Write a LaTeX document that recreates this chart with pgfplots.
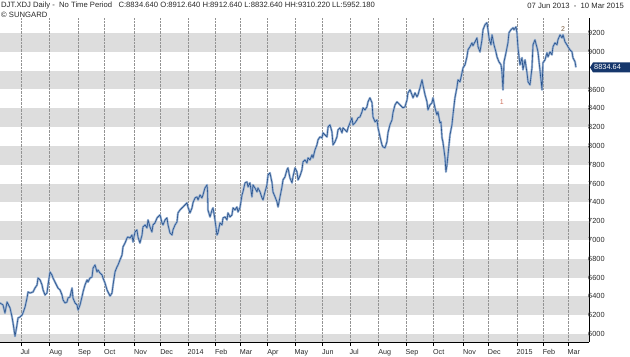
\documentclass[border=0pt]{standalone}
\usepackage{fontspec}
\setmainfont{Liberation Sans}
\usepackage{pgfplots}
\usepackage{pgfplotstable}
\pgfplotsset{compat=1.18}
\definecolor{band}{RGB}{221,221,221}
\definecolor{halo}{RGB}{150,176,210}
\definecolor{lineblue}{RGB}{40,82,140}
\definecolor{tag}{RGB}{22,55,108}
\definecolor{txt}{RGB}{40,40,40}
\definecolor{one}{RGB}{205,110,90}
\definecolor{two}{RGB}{120,90,60}

\pgfplotstableread{
x y
0 6330
2.3 6309
3.8 6223
5.4 6340
7.7 6277
9.2 6181
10.0 6117
11.5 5975
13.0 6096
13.8 6170
15.3 6181
16.9 6202
17.6 6223
19.2 6287
20.7 6383
21.5 6447
23.0 6436
25.3 6447
26.8 6489
28.4 6521
29.1 6596
30.7 6575
32.2 6521
33.0 6468
34.5 6415
36.0 6436
36.8 6521
38.3 6660
39.8 6628
40.6 6596
42.1 6553
44.4 6489
46.0 6468
47.5 6415
48.3 6362
49.8 6330
51.3 6340
52.1 6383
53.6 6394
55.2 6489
55.9 6383
57.5 6330
59.0 6309
59.8 6255
61.3 6309
62.8 6394
63.6 6447
65.1 6521
66.7 6575
67.4 6553
69.0 6596
70.5 6606
71.3 6702
72.8 6734
74.3 6660
75.1 6681
76.6 6649
78.2 6628
78.9 6596
80.4 6543
82.0 6468
84.3 6404
85.8 6436
86.6 6521
88.1 6660
89.6 6713
90.4 6734
91.9 6787
93.5 6841
94.2 6926
95.8 6968
97.3 7021
98.0 7032
99.6 7021
101.1 7053
101.9 6979
103.4 7085
104.9 7107
105.7 7032
107.2 6968
108.8 7053
109.5 7138
111.1 7160
112.6 7128
113.4 7213
114.9 7138
116.4 7085
117.2 7160
118.7 7181
120.3 7234
121.0 7245
122.6 7266
124.1 7181
124.9 7160
126.4 7213
127.9 7234
128.7 7160
130.2 7075
131.8 7053
132.5 7107
134.1 7160
135.6 7192
136.3 7287
137.9 7319
139.4 7341
140.2 7351
141.7 7373
143.2 7394
144.0 7351
145.5 7287
147.1 7341
147.8 7394
149.4 7447
150.9 7458
151.7 7426
153.2 7479
154.7 7447
155.5 7479
157.0 7553
158.6 7585
159.0 7511
159.3 7319
160.9 7245
162.4 7319
163.2 7341
164.7 7213
166.2 7053
167.0 7075
168.5 7181
170.1 7160
170.8 7234
172.4 7245
173.9 7213
174.6 7287
176.2 7245
177.7 7266
178.5 7341
180.0 7319
181.5 7351
182.3 7298
183.8 7341
185.4 7479
186.1 7511
187.7 7607
189.2 7617
190.0 7564
191.5 7607
193.0 7458
193.8 7585
195.3 7553
196.9 7511
197.6 7553
199.2 7511
200.7 7447
201.5 7426
203.0 7511
204.5 7585
205.3 7692
206.8 7713
208.4 7607
209.1 7511
210.7 7458
212.2 7404
213.0 7351
214.5 7458
216.0 7564
216.8 7639
218.3 7670
219.8 7745
220.6 7766
222.1 7660
223.7 7607
224.4 7670
226.0 7766
227.5 7724
228.3 7639
229.8 7681
231.3 7745
232.1 7830
233.6 7851
235.2 7819
235.9 7873
237.5 7851
239.0 7905
239.8 7873
241.3 7958
242.8 8011
243.6 8064
245.1 8096
246.7 8085
247.4 8139
249.0 8117
250.5 8096
251.3 8202
252.8 8224
254.3 8149
255.1 8011
256.6 8043
258.1 8096
258.9 8171
260.4 8192
262.0 8139
262.7 8192
264.3 8171
265.8 8149
266.6 8192
268.1 8245
269.6 8298
270.4 8224
271.9 8245
273.5 8277
274.2 8298
275.8 8309
277.3 8362
278.1 8405
279.6 8383
281.1 8415
281.9 8468
283.4 8511
285.0 8458
285.7 8309
287.3 8256
288.8 8277
289.6 8192
291.1 8096
292.6 8011
293.4 7990
294.9 7979
296.4 8043
297.2 8139
298.7 8224
300.3 8277
301.0 8351
302.6 8437
304.1 8468
304.9 8458
306.4 8437
307.9 8415
308.7 8405
310.2 8415
311.8 8490
312.5 8564
314.1 8596
315.6 8543
316.4 8511
317.9 8564
319.4 8522
320.2 8543
321.7 8617
323.3 8703
324.0 8649
325.6 8543
327.1 8468
327.8 8383
329.4 8437
330.9 8458
331.7 8511
333.2 8405
334.7 8330
335.5 8362
337.0 8245
337.8 8256
338.6 8085
339.3 8043
340.9 7873
341.6 7724
342.4 7798
343.2 7905
344.7 8117
346.2 8224
347.0 8330
348.5 8511
350.1 8628
350.8 8703
352.4 8681
353.9 8777
354.7 8830
356.2 8862
357.7 8947
358.5 9022
360.0 9054
361.6 9096
362.3 9065
363.9 9107
365.4 9149
366.2 9054
367.7 9000
369.2 9128
370.0 9235
371.5 9288
373.0 9310
373.8 9235
374.6 9149
376.1 9075
376.9 9181
378.4 9075
379.9 9000
380.7 8947
382.2 8894
383.8 8862
384.5 8788
385.3 8596
386.1 8894
387.6 8990
389.1 9096
389.9 9203
391.4 9235
393.0 9256
393.7 9235
395.3 9266
396.0 9203
396.8 9043
398.3 8862
399.9 8937
400.6 8809
402.2 8915
403.7 8777
404.5 8681
406.0 8649
407.5 8830
408.3 9075
409.8 9128
411.4 9043
412.1 9000
413.6 8809
415.2 8596
415.9 8883
417.5 8915
419.0 8990
419.8 8947
421.3 9000
422.8 8969
423.6 9054
425.1 9096
426.7 9075
427.4 9128
429.0 9181
430.5 9149
431.3 9181
432.8 9107
434.3 9075
435.1 9054
436.6 9022
438.2 9000
438.9 8937
440.5 8894
441.2 8835
}\djt

\begin{document}
\begin{tikzpicture}
\begin{axis}[
  at={(0,15bp)}, anchor=south west,
  scale only axis, width=589bp, height=324bp,
  set layers, clip=false,
  xmin=0, xmax=451.2, ymin=5915, ymax=9360,
  axis x line*=bottom, axis y line*=right,
  axis line style={-, line width=0.8bp, black},
  xtick={16,38,60,80,103,123,144,165,184,205,226,247,268,290,311,332,355,374,396,416,435},
  xticklabels={Jul,Aug,Sep,Oct,Nov,Dec,2014,Feb,Mar,Apr,May,Jun,Jul,Aug,Sep,Oct,Nov,Dec,2015,Feb,Mar},
  xtick align=outside, major tick length=4bp,
  xtick style={line width=0.6bp, black},
  xmajorgrids, grid style={densely dotted, gray!85, line width=0.5bp},
  ytick={6000,6200,6400,6600,6800,7000,7200,7400,7600,7800,8000,8200,8400,8600,9000,9200},
  ytick style={draw=none},
  /pgf/number format/assume math mode=true,
  /pgf/number format/1000 sep={},
  yticklabel style={anchor=west, xshift=-2bp, inner sep=1bp, font=\fontsize{7.4}{8}\selectfont, text=txt},
  xticklabel style={anchor=north west, xshift=-1.5bp, yshift=-2bp, inner sep=1bp, font=\fontsize{7.2}{8}\selectfont, text=txt},
]
\begin{pgfonlayer}{axis background}
\fill[band] (axis cs:0,5915) rectangle (axis cs:451.2,6000);
\fill[band] (axis cs:0,6200) rectangle (axis cs:451.2,6400);
\fill[band] (axis cs:0,6600) rectangle (axis cs:451.2,6800);
\fill[band] (axis cs:0,7000) rectangle (axis cs:451.2,7200);
\fill[band] (axis cs:0,7400) rectangle (axis cs:451.2,7600);
\fill[band] (axis cs:0,7800) rectangle (axis cs:451.2,8000);
\fill[band] (axis cs:0,8200) rectangle (axis cs:451.2,8400);
\fill[band] (axis cs:0,8600) rectangle (axis cs:451.2,8800);
\fill[band] (axis cs:0,9000) rectangle (axis cs:451.2,9200);
\end{pgfonlayer}
\addplot[halo, line width=2.1bp, line join=round] table[x=x,y=y] {\djt};
\addplot[lineblue, line width=0.6bp, line join=round] table[x=x,y=y] {\djt};
\node[text=one, font=\fontsize{7}{8}\selectfont] at (axis cs:384.5,8468) {1};
\node[text=two, font=\fontsize{7}{8}\selectfont] at (axis cs:431.3,9240) {2};
\coordinate (last) at (axis cs:451.2,8834.64);
\end{axis}
\fill[tag] ([xshift=1bp]last) -- ++(3bp,5bp) -- ++(37bp,0) -- ++(0,-10bp) -- ++(-37bp,0) -- cycle;
\node[anchor=west, text=white, inner sep=0pt, font=\fontsize{7.4}{8}\selectfont] at ([xshift=5bp]last) {8834.64};
\node[anchor=west, inner sep=0pt, text=txt, font=\fontsize{7.7}{8}\selectfont] at (1bp,351.5bp) {DJT.XDJ Daily -~~No Time Period~~~C:8834.640 O:8912.640 H:8912.640 L:8832.640 HH:9310.220 LL:5952.180};
\node[anchor=west, inner sep=0pt, text=txt, font=\fontsize{7.7}{8}\selectfont] at (1bp,342.5bp) {\textcopyright{} SUNGARD};
\node[anchor=east, inner sep=0pt, text=txt, font=\fontsize{7.7}{8}\selectfont] at (624bp,351.5bp) {07 Jun 2013~~-~~10 Mar 2015};
\pgfresetboundingbox
\path[use as bounding box] (0,0) rectangle (630bp,357bp);
\end{tikzpicture}
\end{document}
